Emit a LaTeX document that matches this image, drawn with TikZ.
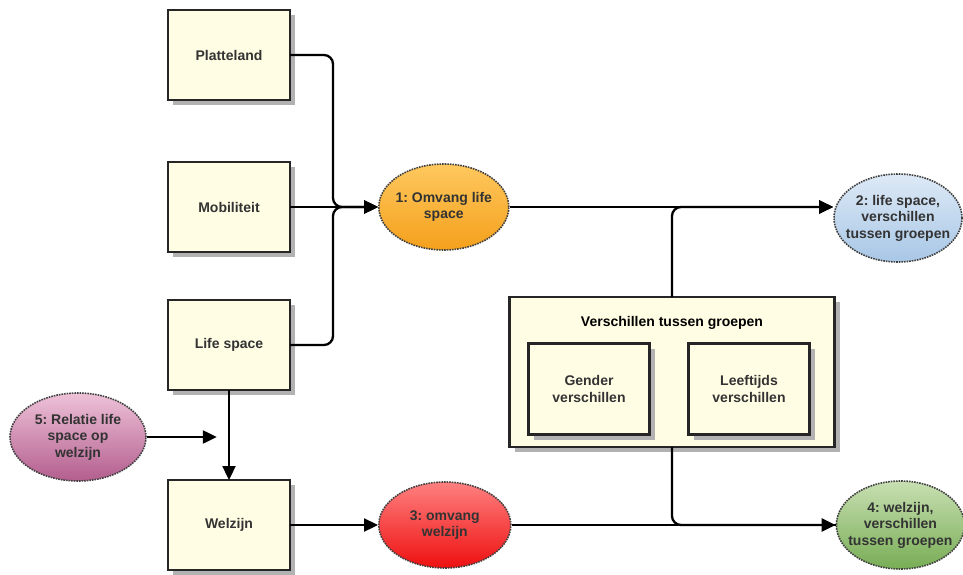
\documentclass[tikz,border=0pt]{standalone}
\usepackage{fontspec}
\setmainfont{Liberation Sans}
\usetikzlibrary{positioning,shapes.geometric,shadows,arrows.meta}

\definecolor{boxfill}{HTML}{FFFDE3}
\definecolor{orangetop}{HTML}{FFC85E}
\definecolor{orangebot}{HTML}{F4A01C}
\definecolor{bluetop}{HTML}{DDE9F6}
\definecolor{bluebot}{HTML}{A8C7E6}
\definecolor{redtop}{HTML}{FF8080}
\definecolor{redbot}{HTML}{EE1010}
\definecolor{greentop}{HTML}{C8DFB2}
\definecolor{greenbot}{HTML}{78AD55}
\definecolor{pinktop}{HTML}{EEC2D8}
\definecolor{pinkbot}{HTML}{B35E8E}

\frenchspacing

\begin{document}
\begin{tikzpicture}[x=1pt,y=-1pt,node distance=62pt,
    font=\bfseries\fontsize{14}{16.5}\selectfont,
    box/.style={rectangle,draw=black!85,line width=2.2pt,fill=boxfill,
        minimum width=122pt,minimum height=90pt,align=center,text=black!80,outer sep=0pt,
        drop shadow={shadow xshift=5pt,shadow yshift=-5pt,fill=black!30,opacity=1}},
    bubble/.style={ellipse,draw=black!75,densely dotted,line width=1.6pt,
        minimum width=130pt,minimum height=86pt,align=center,
        inner xsep=-9pt,inner ysep=0pt,text=black!80},
    link/.style={line width=2.3pt,rounded corners=9pt,-{Triangle[length=14pt,width=13pt]}}]

    \useasboundingbox (0,0) rectangle (963,575);

    % left column
    \node[box] (plat) at (229,55) {Platteland};
    \node[box, below=of plat] (mob) {Mobiliteit};
    \node[box, below=48pt of mob] (life) {Life space};
    \node[box, below=90pt of life] (welz) {Welzijn};

    % groups
    \node[box, minimum width=325pt, minimum height=150pt] (groups) at (672,372) {};
    \node (groupstitle) at (672,323) {Verschillen tussen groepen};
    \node[box, minimum width=121pt, minimum height=91pt] (gender) at (589,389) {Gender\\verschillen};
    \node[box, minimum width=121pt, minimum height=91pt] (age) at (749,389) {Leeftijds\\verschillen};

    % research questions
    \node[bubble, right=88pt of mob, top color=orangetop, bottom color=orangebot] (omv) {1: Omvang life\\space};
    \node[bubble, minimum width=128pt, minimum height=88pt, top color=bluetop, bottom color=bluebot] (lsgroups) at (898,218) {2: life space,\\verschillen\\tussen groepen};
    \node[bubble, minimum width=132pt, right=88pt of welz, top color=redtop, bottom color=redbot] (omvwelz) {3: omvang\\welzijn};
    \node[bubble, minimum width=128pt, minimum height=88pt, right=324pt of omvwelz, top color=greentop, bottom color=greenbot] (wzgroups) {4: welzijn,\\verschillen\\tussen groepen};
    \node[bubble, minimum width=136pt, minimum height=88pt, top color=pinktop, bottom color=pinkbot] (rel) at (78,437) {5: Relatie life\\space op\\welzijn};

    \coordinate (jn) at ([xshift=-45pt]omv.west);
    \coordinate (relend) at ([xshift=70pt]rel.east);

    \draw[link] (plat.east) -| (jn) -- (omv.west);
    \draw[link] (mob.east) -- (omv.west);
    \draw[link] (life.east) -| (jn) -- (omv.west);

    \draw[link] (omv.east) -- (omv.east -| lsgroups.west);
    \draw[link] (groups.north) |- (omv.east -| lsgroups.west);
    \draw[link] (groups.south) |- (wzgroups.west);
    \draw[line width=2.3pt] (omvwelz.east) -- (wzgroups.west);

    \draw[link] (life.south) -- (welz.north);
    \draw[link] (welz.east) -- (omvwelz.west);
    \draw[link] (rel.east) -- (relend);
\end{tikzpicture}
\end{document}
